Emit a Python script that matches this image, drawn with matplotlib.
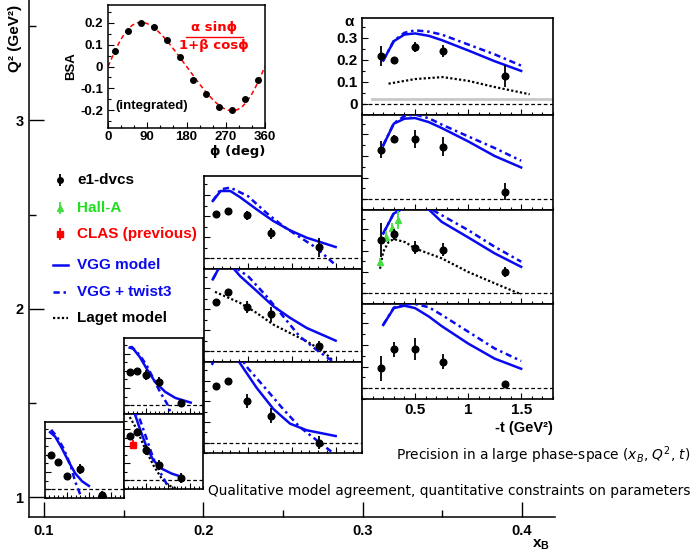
import numpy as np
import matplotlib.pyplot as plt
from matplotlib.ticker import FixedLocator, MultipleLocator, FuncFormatter, NullFormatter

# ---------------- data ----------------
# integrated BSA vs phi
phi_bins = [15, 45, 75, 105, 135, 165, 195, 225, 255, 285, 315, 345]
bsa_vals = [0.070, 0.161, 0.200, 0.182, 0.122, 0.042, -0.060, -0.123, -0.185, -0.200, -0.150, -0.060]
bsa_err = [0.006, 0.006, 0.006, 0.006, 0.006, 0.006, 0.006, 0.006, 0.006, 0.006, 0.006, 0.006]
fit_alpha = 0.195
fit_beta = -0.25

# xB bin 1 (one Q2 bin)
g1_t = [0.14, 0.29, 0.50, 0.79, 1.29]
g1_a = [0.199, 0.160, 0.076, 0.117, -0.030]
g1_e = [0.012, 0.012, 0.020, 0.030, 0.020]
g1_vt = [0.115, 0.23, 0.385, 0.54, 0.69, 0.845, 1.0]
g1_vgg = [0.331, 0.306, 0.238, 0.160, 0.092, 0.047, 0.020]
g1_wt = [0.14, 0.27, 0.42, 0.58, 0.69, 0.75, 0.81]
g1_tw3 = [0.345, 0.306, 0.238, 0.141, 0.043, 0.005, -0.034]

# xB bin 2 (two Q2 bins: a = upper, b = lower)
g2_t = [0.146, 0.285, 0.50, 0.79, 1.295]
g2a_a = [0.193, 0.197, 0.174, 0.135, 0.014]
g2a_e = [0.010, 0.010, 0.030, 0.030, 0.025]
g2a_vt = [0.13, 0.21, 0.36, 0.515, 0.71, 0.94, 1.17, 1.52]
g2a_vgg = [0.334, 0.328, 0.280, 0.213, 0.135, 0.078, 0.043, 0.016]
g2a_wt = [0.13, 0.18, 0.36, 0.515, 0.67, 0.82, 0.98, 1.05]
g2a_tw3 = [0.336, 0.338, 0.290, 0.232, 0.155, 0.078, 0.010, -0.034]
g2b_a = [0.259, 0.284, 0.177, 0.089, 0.016]
g2b_e = [0.010, 0.010, 0.030, 0.030, 0.030]
g2b_vt = [0.20, 0.26, 0.36, 0.515, 0.67, 0.86, 1.09, 1.32]
g2b_vgg = [0.430, 0.380, 0.304, 0.196, 0.118, 0.069, 0.040, 0.021]
g2b_wt = [0.20, 0.36, 0.515, 0.67, 0.82, 0.94, 1.0]
g2b_tw3 = [0.450, 0.359, 0.245, 0.128, 0.050, -0.005, -0.038]
g2b_lt = [0.13, 0.285, 0.48, 0.67, 0.86, 1.01, 1.21]
g2b_laget = [0.372, 0.304, 0.187, 0.089, 0.011, -0.028, -0.048]
clas_t = [0.21]
clas_a = [0.21]
clas_e = [0.025]

# xB bin 3 (three Q2 bins: a = top ... c = bottom)
g3_t = [0.137, 0.277, 0.486, 0.763, 1.31]
g3_vt = [0.10, 0.19, 0.30, 0.41, 0.60, 0.79, 0.98, 1.17, 1.50]
g3a_a = [0.208, 0.224, 0.204, 0.118, 0.054]
g3a_e = [0.010, 0.010, 0.020, 0.025, 0.045]
g3a_vgg = [0.272, 0.319, 0.319, 0.290, 0.232, 0.177, 0.133, 0.098, 0.054]
g3a_wt = [0.10, 0.19, 0.30, 0.50, 0.71, 0.90, 1.09, 1.28, 1.49]
g3a_tw3 = [0.272, 0.327, 0.335, 0.295, 0.216, 0.153, 0.101, 0.050, -0.028]
g3b_a = [0.233, 0.279, 0.210, 0.175, 0.027]
g3b_e = [0.010, 0.010, 0.030, 0.035, 0.020]
g3b_vgg = [0.341, 0.410, 0.410, 0.357, 0.286, 0.214, 0.159, 0.111, 0.051]
g3b_wt = [0.10, 0.19, 0.30, 0.41, 0.50, 0.71, 0.90, 1.09, 1.28, 1.47]
g3b_tw3 = [0.341, 0.410, 0.420, 0.381, 0.357, 0.262, 0.167, 0.071, 0.008, -0.048]
g3b_lt = [0.125, 0.41, 0.60, 0.79, 0.98, 1.17, 1.36, 1.46]
g3b_laget = [0.282, 0.230, 0.182, 0.127, 0.087, 0.048, 0.000, -0.040]
g3c_a = [0.273, 0.300, 0.202, 0.131, 0.000]
g3c_e = [0.012, 0.012, 0.035, 0.035, 0.030]
g3c_vgg = [0.450, 0.470, 0.450, 0.384, 0.265, 0.163, 0.092, 0.060, 0.032]
g3c_wt = [0.088, 0.12, 0.30, 0.45, 0.50, 0.71, 0.90, 1.09, 1.28, 1.45]
g3c_tw3 = [0.376, 0.400, 0.450, 0.390, 0.360, 0.258, 0.163, 0.076, 0.013, -0.043]

# xB bin 4 (four Q2 bins: a = top ... d = bottom)
g4_t = [0.176, 0.30, 0.495, 0.765, 1.35]
g4_vt = [0.20, 0.30, 0.40, 0.50, 0.63, 0.75, 1.0, 1.25, 1.50]
g4a_a = [0.217, 0.200, 0.258, 0.240, 0.128]
g4a_e = [0.045, 0.013, 0.023, 0.026, 0.050]
g4a_vgg = [0.197, 0.285, 0.315, 0.320, 0.309, 0.290, 0.243, 0.194, 0.150]
g4a_tw3 = [0.197, 0.287, 0.323, 0.334, 0.328, 0.315, 0.270, 0.225, 0.174]
g4a_lt = [0.25, 0.50, 0.76, 1.0, 1.25, 1.58]
g4a_laget = [0.092, 0.113, 0.122, 0.105, 0.077, 0.044]
g4a_gt = [0.09, 1.8]
g4a_gray = [0.022, 0.022]
g4b_a = [0.229, 0.279, 0.279, 0.243, 0.035]
g4b_e = [0.040, 0.020, 0.040, 0.045, 0.040]
g4b_vgg = [0.249, 0.350, 0.373, 0.376, 0.357, 0.330, 0.268, 0.200, 0.147]
g4b_tw3 = [0.249, 0.352, 0.385, 0.392, 0.375, 0.346, 0.291, 0.237, 0.178]
g4c_a = [0.250, 0.276, 0.213, 0.205, 0.100]
g4c_e = [0.080, 0.025, 0.030, 0.030, 0.025]
g4c_vgg = [0.280, 0.374, 0.400, 0.405, 0.392, 0.335, 0.262, 0.187, 0.124]
g4c_tw3 = [0.280, 0.376, 0.405, 0.415, 0.400, 0.366, 0.296, 0.218, 0.148]
g4c_lt = [0.17, 0.20, 0.25, 0.30, 0.41, 0.50, 0.75, 1.0, 1.25, 1.5]
g4c_laget = [0.115, 0.195, 0.240, 0.254, 0.239, 0.210, 0.164, 0.100, 0.047, -0.005]
halla_t = [0.173, 0.23, 0.283, 0.337]
halla_a = [0.148, 0.265, 0.304, 0.343]
halla_e = [0.015, 0.025, 0.025, 0.040]
g4d_a = [0.093, 0.181, 0.181, 0.123, 0.020]
g4d_e = [0.058, 0.035, 0.050, 0.035, 0.008]
g4d_vgg = [0.293, 0.371, 0.382, 0.371, 0.332, 0.288, 0.207, 0.137, 0.090]
g4d_tw3 = [0.293, 0.373, 0.390, 0.390, 0.375, 0.340, 0.262, 0.184, 0.126]

# ---------------- style ----------------
plt.rcParams['font.family'] = ['Liberation Sans', 'DejaVu Sans']
plt.rcParams['font.weight'] = 'bold'
plt.rcParams['axes.labelweight'] = 'bold'
plt.rcParams['axes.unicode_minus'] = False
plt.rcParams['mathtext.fontset'] = 'custom'
plt.rcParams['mathtext.rm'] = 'DejaVu Sans:weight=normal'
plt.rcParams['mathtext.it'] = 'DejaVu Sans:style=italic:weight=normal'
plt.rcParams['mathtext.bf'] = 'Liberation Sans:bold'

W, H = 693, 552
BLUE = '#0a0aee'
GREEN = '#44dd44'
TW3 = (0, (2.5, 1.5, 1, 1.5))
LAGET = (0, (1, 1))
fmt_g = FuncFormatter(lambda v, p: f'{v:g}')

fig = plt.figure(figsize=(W / 100, H / 100), dpi=100)


def px_axes(x0, y0, x1, y1):
    return fig.add_axes([x0 / W, 1 - y1 / H, (x1 - x0) / W, (y1 - y0) / H])


# main (xB, Q2) frame
ax = px_axes(29, 0, 555, 517)
ax.set_facecolor('none')
ax.set_xlim(0.09058, 0.42078)
ax.set_ylim(0.8955, 3.638)
for s in ['top', 'right']:
    ax.spines[s].set_visible(False)
for s in ['left', 'bottom']:
    ax.spines[s].set_linewidth(1.1)
ax.xaxis.set_major_locator(FixedLocator([0.1, 0.2, 0.3, 0.4]))
ax.xaxis.set_minor_locator(FixedLocator([0.15, 0.25, 0.35]))
ax.yaxis.set_major_locator(FixedLocator([1, 2, 3]))
ax.yaxis.set_minor_locator(FixedLocator([1.5, 2.5, 3.5]))
ax.xaxis.set_major_formatter(fmt_g)
ax.yaxis.set_major_formatter(fmt_g)
ax.tick_params(which='both', direction='in', labelsize=10.5)
ax.tick_params(which='major', length=10.5, width=1)
ax.tick_params(which='minor', length=5, width=1)
ax.tick_params(axis='x', pad=5)
ax.tick_params(axis='y', pad=4)


def panel(box, xlab=False, ylab=False):
    a = px_axes(*box)
    a.set_xlim(0, 1.8)
    a.set_ylim(-0.05, 0.39)
    a.xaxis.set_major_locator(FixedLocator([0.5, 1.0, 1.5]))
    a.xaxis.set_minor_locator(MultipleLocator(0.1))
    a.yaxis.set_major_locator(FixedLocator([0, 0.1, 0.2, 0.3]))
    a.yaxis.set_minor_locator(MultipleLocator(0.05))
    a.tick_params(which='both', direction='in', width=0.8, labelsize=11)
    a.tick_params(which='major', length=4.5)
    a.tick_params(which='minor', length=2.3)
    for s in a.spines.values():
        s.set_linewidth(1.2)
    a.xaxis.set_major_formatter(fmt_g if xlab else NullFormatter())
    a.yaxis.set_major_formatter(fmt_g if ylab else NullFormatter())
    a.tick_params(axis='x', pad=3)
    a.tick_params(axis='y', pad=3)
    a.axhline(0, color='k', lw=0.9, ls=(0, (3, 2)), zorder=1)
    return a


def curves(a, dt, da, de, vt, vv, wt, wv, lt=None, lv=None):
    if lt is not None:
        a.plot(lt, lv, color='k', lw=1.6, ls=LAGET, zorder=2)
    a.plot(wt, wv, color=BLUE, lw=1.8, ls=TW3, zorder=3)
    a.plot(vt, vv, color=BLUE, lw=1.8, zorder=3)
    a.errorbar(dt, da, yerr=de, fmt='o', color='k', ms=4.8, elinewidth=1.3,
               capsize=0, zorder=5)


# xB bin 1
p = panel((45, 422, 124, 498))
curves(p, g1_t, g1_a, g1_e, g1_vt, g1_vgg, g1_wt, g1_tw3)

# xB bin 2
p = panel((124, 338, 203, 414))
curves(p, g2_t, g2a_a, g2a_e, g2a_vt, g2a_vgg, g2a_wt, g2a_tw3)
p = panel((124, 414, 203, 489))
curves(p, g2_t, g2b_a, g2b_e, g2b_vt, g2b_vgg, g2b_wt, g2b_tw3, g2b_lt, g2b_laget)
p.errorbar(clas_t, clas_a, yerr=clas_e, fmt='s', color='red', ms=4.5,
           elinewidth=1.3, capsize=0, zorder=5)

# xB bin 3
p = panel((204, 176, 362, 269))
curves(p, g3_t, g3a_a, g3a_e, g3_vt, g3a_vgg, g3a_wt, g3a_tw3)
p = panel((204, 269, 362, 362))
curves(p, g3_t, g3b_a, g3b_e, g3_vt, g3b_vgg, g3b_wt, g3b_tw3, g3b_lt, g3b_laget)
p = panel((204, 362, 362, 453))
curves(p, g3_t, g3c_a, g3c_e, g3_vt, g3c_vgg, g3c_wt, g3c_tw3)

# xB bin 4
p = panel((362, 18, 553, 115), ylab=True)
p.plot(g4a_gt, g4a_gray, color='#c8c8c8', lw=2, zorder=1)
curves(p, g4_t, g4a_a, g4a_e, g4_vt, g4a_vgg, g4_vt, g4a_tw3, g4a_lt, g4a_laget)
p = panel((362, 115, 553, 210))
curves(p, g4_t, g4b_a, g4b_e, g4_vt, g4b_vgg, g4_vt, g4b_tw3)
p = panel((362, 210, 553, 304))
curves(p, g4_t, g4c_a, g4c_e, g4_vt, g4c_vgg, g4_vt, g4c_tw3, g4c_lt, g4c_laget)
p.errorbar(halla_t, halla_a, yerr=halla_e, fmt='^', color=GREEN, ms=4.5,
           elinewidth=1.3, capsize=0, zorder=4)
p = panel((362, 304, 553, 399), xlab=True)
curves(p, g4_t, g4d_a, g4d_e, g4_vt, g4d_vgg, g4_vt, g4d_tw3)

# integrated BSA inset
b = px_axes(108, 5, 265, 128)
b.set_xlim(0, 360)
b.set_ylim(-0.28, 0.28)
phi = np.linspace(0, 360, 181)
fit = fit_alpha * np.sin(np.radians(phi)) / (1 + fit_beta * np.cos(np.radians(phi)))
b.plot(phi, fit, color='red', lw=1.1, ls=(0, (3, 2)))
b.errorbar(phi_bins, bsa_vals, yerr=bsa_err, fmt='o', color='k', ms=4,
           elinewidth=1, capsize=0, zorder=5)
b.xaxis.set_major_locator(FixedLocator([0, 90, 180, 270, 360]))
b.xaxis.set_minor_locator(MultipleLocator(30))
b.yaxis.set_major_locator(FixedLocator([-0.2, -0.1, 0, 0.1, 0.2]))
b.yaxis.set_minor_locator(MultipleLocator(0.05))
b.yaxis.set_major_formatter(fmt_g)
b.tick_params(which='both', direction='in', width=0.8, labelsize=9.5)
b.tick_params(which='major', length=4.5)
b.tick_params(which='minor', length=2.3)
b.tick_params(axis='x', pad=2)
for s in b.spines.values():
    s.set_linewidth(1.1)
b.set_ylabel('BSA', fontsize=9.5, fontweight='bold', labelpad=2)

# overlay for free text and legend, pixel coordinates
ov = fig.add_axes([0, 0, 1, 1])
ov.set_xlim(0, W)
ov.set_ylim(H, 0)
ov.axis('off')

ov.text(152, 106, '(integrated)', ha='center', va='center', fontsize=9.5)
ov.text(15, 38, 'Q² (GeV²)', rotation=90, ha='center', va='center', fontsize=11)
ov.text(541, 545, r'$\mathbf{x}_{\mathbf{B}}$', ha='center', va='center', fontsize=11)
ov.text(349, 22, 'α', ha='center', va='center', fontsize=11)
ov.text(553, 428, '-t (GeV²)', ha='right', va='center', fontsize=10.5)
ov.text(265, 152, 'ϕ (deg)', ha='right', va='center', fontsize=9.5,
        family=['DejaVu Sans'])

ov.text(214, 28, 'α sinϕ', ha='center', va='center', color='red', fontsize=9.5,
        family=['DejaVu Sans'])
ov.plot([186, 243], [37, 37], color='red', lw=1)
ov.text(214, 46, '1+β cosϕ', ha='center', va='center', color='red', fontsize=9.5,
        family=['DejaVu Sans'])

ov.text(690, 455, r'Precision in a large phase-space ($x_B$, $Q^2$, $t$)',
        ha='right', va='center', fontsize=9.9, fontweight='normal', family=['DejaVu Sans'])
ov.text(690, 491, 'Qualitative model agreement, quantitative constraints on parameters',
        ha='right', va='center', fontsize=9.9, fontweight='normal', family=['DejaVu Sans'])

# legend
lx, tx = 60, 77
ov.errorbar([lx], [180], yerr=[6], fmt='o', color='k', ms=4, elinewidth=1.3, capsize=0)
ov.text(tx, 180, 'e1-dvcs', va='center', fontsize=11)
ov.errorbar([lx], [208], yerr=[6], fmt='^', color=GREEN, ms=4, elinewidth=1.3, capsize=0)
ov.text(tx, 208, 'Hall-A', va='center', fontsize=11, color='#22dd22')
ov.errorbar([lx], [234], yerr=[6], fmt='s', color='red', ms=4, elinewidth=1.3, capsize=0)
ov.text(tx, 234, 'CLAS (previous)', va='center', fontsize=11, color='red')
ov.plot([53, 68], [265, 265], color=BLUE, lw=1.8)
ov.text(tx, 265, 'VGG model', va='center', fontsize=11, color=BLUE)
ov.plot([53, 68], [292, 292], color=BLUE, lw=1.8, ls=TW3)
ov.text(tx, 292, 'VGG + twist3', va='center', fontsize=11, color=BLUE)
ov.plot([53, 68], [318, 318], color='k', lw=1.6, ls=LAGET)
ov.text(tx, 318, 'Laget model', va='center', fontsize=11)

fig.savefig('out.png', dpi=100)
